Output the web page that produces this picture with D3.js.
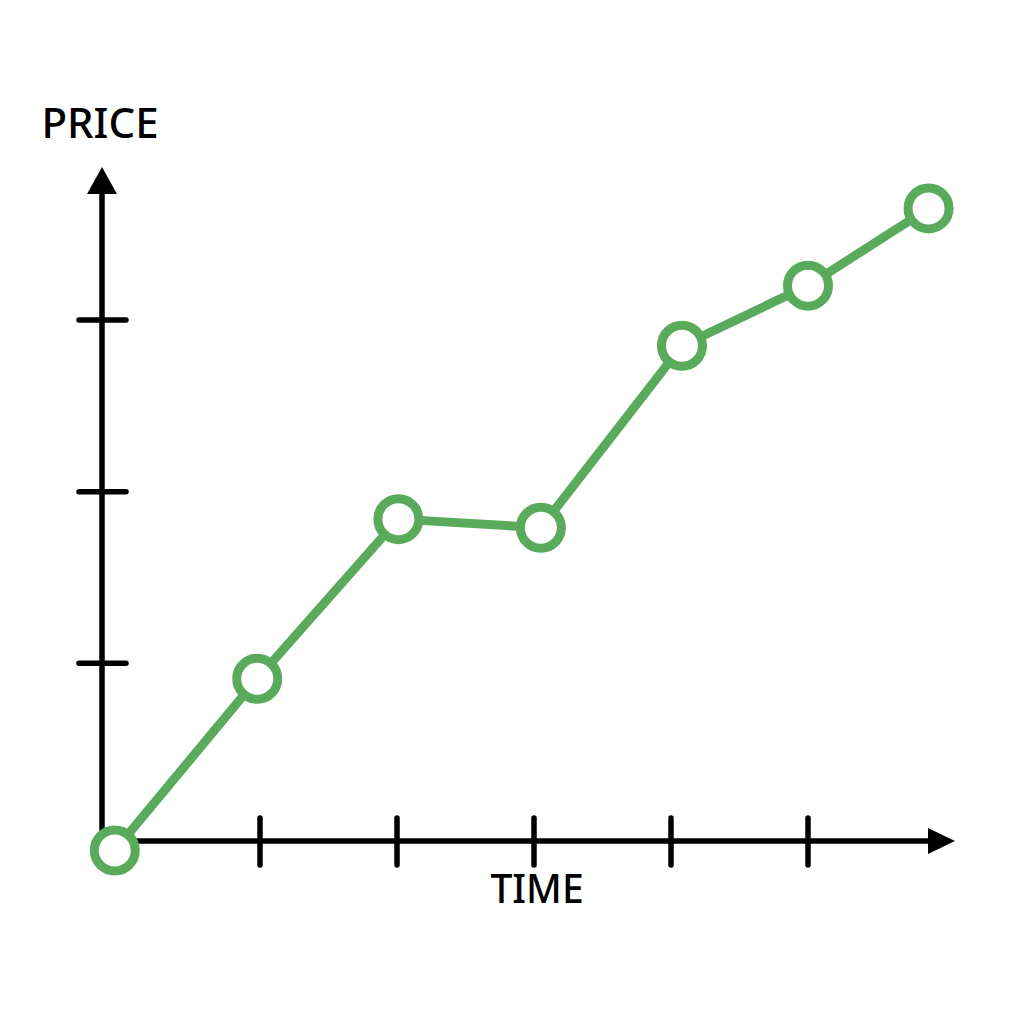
<!DOCTYPE html>
<html>
<head>
    <title>Price over time</title>
    <script src="https://d3js.org/d3.v7.min.js"></script>
    <style>
        body { margin: 0; background: #fff; }
    </style>
</head>
<body>
    <div id="chart"></div>
    <script>
        // data (units = tick steps)
        const time = [-0.06, 0.98, 2.01, 3.05, 4.08, 5.0, 5.88];
        const price = [-0.09, 0.91, 1.84, 1.79, 2.85, 3.2, 3.65];
        const xTicks = [1, 2, 3, 4, 5];
        const yTicks = [1, 2, 3];
        const xLabel = "TIME";
        const yLabel = "PRICE";

        const data = time.map((t, i) => ({ t: t, p: price[i] }));

        const width = 1024, height = 1024;
        const green = "#5aaa5c";

        const svg = d3.select("#chart")
            .append("svg")
                .attr("width", width)
                .attr("height", height);

        // scales: one unit = one tick step
        const x = d3.scaleLinear().domain([0, 5]).range([123, 808]);
        const y = d3.scaleLinear().domain([0, 3]).range([835, 320]);

        const axisX = 102, axisY = 841;

        // axis lines
        svg.append("line")
            .attr("x1", axisX).attr("y1", axisY)
            .attr("x2", 935).attr("y2", axisY)
            .attr("stroke", "#000").attr("stroke-width", 5.5);
        svg.append("line")
            .attr("x1", axisX).attr("y1", axisY)
            .attr("x2", axisX).attr("y2", 185)
            .attr("stroke", "#000").attr("stroke-width", 5.5);

        // arrow heads
        svg.append("path")
            .attr("d", `M928,${axisY - 13} L955,${axisY} L928,${axisY + 13} Z`)
            .attr("fill", "#000");
        svg.append("path")
            .attr("d", `M${axisX - 15},194 L${axisX},167 L${axisX + 15},194 Z`)
            .attr("fill", "#000");

        // ticks
        svg.selectAll(".xtick")
            .data(xTicks)
            .enter().append("line")
                .attr("x1", d => x(d)).attr("x2", d => x(d))
                .attr("y1", axisY - 23).attr("y2", axisY + 24)
                .attr("stroke", "#000").attr("stroke-width", 5.5)
                .attr("stroke-linecap", "round");
        svg.selectAll(".ytick")
            .data(yTicks)
            .enter().append("line")
                .attr("x1", axisX - 23).attr("x2", axisX + 24)
                .attr("y1", d => y(d)).attr("y2", d => y(d))
                .attr("stroke", "#000").attr("stroke-width", 5.5)
                .attr("stroke-linecap", "round");

        // labels
        svg.append("text")
            .attr("x", 100).attr("y", 138)
            .attr("text-anchor", "middle")
            .attr("font-family", "Noto Sans")
            .attr("font-weight", 500)
            .attr("font-size", 42)
            .text(yLabel);
        svg.append("text")
            .attr("x", 537).attr("y", 903)
            .attr("text-anchor", "middle")
            .attr("font-family", "Noto Sans")
            .attr("font-weight", 500)
            .attr("font-size", 39)
            .text(xLabel);

        // line
        const line = d3.line()
            .x(d => x(d.t))
            .y(d => y(d.p));

        svg.append("path")
            .datum(data)
            .attr("fill", "none")
            .attr("stroke", green)
            .attr("stroke-width", 9)
            .attr("stroke-linejoin", "round")
            .attr("d", line);

        // points
        svg.selectAll(".pt")
            .data(data)
            .enter().append("circle")
                .attr("cx", d => x(d.t))
                .attr("cy", d => y(d.p))
                .attr("r", 20.5)
                .attr("fill", "#fff")
                .attr("stroke", green)
                .attr("stroke-width", 9);
    </script>
</body>
</html>
